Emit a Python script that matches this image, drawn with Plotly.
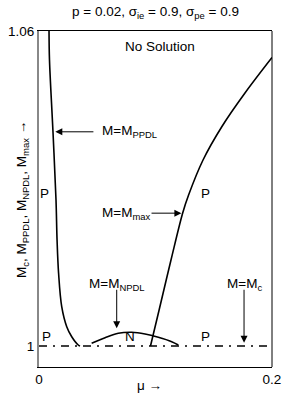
import plotly.graph_objects as go

# ---- data ----
ppdl_mu = [0.0086, 0.0090, 0.0120, 0.0146, 0.0155, 0.0168, 0.0195, 0.0238, 0.0281, 0.0337, 0.0352]
ppdl_M  = [1.0600, 1.0545, 1.0408, 1.0278, 1.0202, 1.0139, 1.0075, 1.00368, 1.00177, 1.00019, 1.0000]

npdl_mu = [0.0452, 0.0567, 0.0681, 0.0796, 0.0910, 0.1024, 0.1139, 0.1196]
npdl_M  = [1.00051, 1.00158, 1.00242, 1.00261, 1.00229, 1.00166, 1.00082, 1.00019]

mmax_mu = [0.0957, 0.1031, 0.1133, 0.1234, 0.1284, 0.1408, 0.1569, 0.1768, 0.2000]
mmax_M  = [1.0000, 1.00686, 1.01638, 1.02539, 1.02876, 1.03543, 1.04177, 1.04819, 1.05495]

mc_mu = [0.0, 0.2]
mc_M  = [1.0, 1.0]

x_ticks = [0, 0.2]
x_ticklabels = ["0", "0.2"]
y_ticks = [1.0, 1.06]
y_ticklabels = ["1", "1.06"]

FONT = "Liberation Sans, Arial, Helvetica, sans-serif"

fig = go.Figure()
line_style = dict(color="black", width=1.6)
fig.add_trace(go.Scatter(x=mc_mu, y=mc_M, mode="lines",
                         line=dict(color="black", width=1.3, dash="8px,6px,2px,6px")))
fig.add_trace(go.Scatter(x=ppdl_mu, y=ppdl_M, mode="lines", line=dict(line_style, shape="spline")))
fig.add_trace(go.Scatter(x=npdl_mu, y=npdl_M, mode="lines", line=dict(line_style, shape="spline")))
fig.add_trace(go.Scatter(x=mmax_mu, y=mmax_M, mode="lines", line=dict(line_style, shape="spline")))

tf = dict(family=FONT, size=13.5, color="black")
ann = []
def text(x, y, t, xanchor="center"):
    ann.append(dict(x=x, y=y, xref="x", yref="y", text=t, showarrow=False,
                    font=tf, xanchor=xanchor, yanchor="middle"))
def arrow(x, y, ax, ay):
    ann.append(dict(x=x, y=y, ax=ax, ay=ay, xref="x", yref="y", axref="x", ayref="y",
                    text="", showarrow=True, arrowhead=2, arrowsize=1.4,
                    arrowwidth=1, arrowcolor="black"))

text(0.1035, 1.0570, "No Solution")
text(0.0524, 1.0408, "M=M<sub>PPDL</sub>", "left")
arrow(0.0140, 1.0408, 0.0480, 1.0408)
text(0.0524, 1.0253, "M=M<sub>max</sub>", "left")
arrow(0.1222, 1.0253, 0.0953, 1.0253)
text(0.0670, 1.0118, "M=M<sub>NPDL</sub>")
arrow(0.0667, 1.0034, 0.0667, 1.0110)
text(0.1760, 1.0118, "M=M<sub>c</sub>")
arrow(0.1760, 1.0006, 0.1760, 1.0110)
text(0.0066, 1.0018, "P")
text(0.0784, 1.0018, "N")
text(0.1425, 1.0018, "P")
text(0.0048, 1.0290, "P")
text(0.1425, 1.0290, "P")
# axis titles
ann.append(dict(x=-0.073, y=0.5, xref="paper", yref="paper", showarrow=False, textangle=-90,
                text="M<sub>c</sub>, M<sub>PPDL</sub>, M<sub>NPDL</sub>, M<sub>max</sub> →",
                font=tf, xanchor="center", yanchor="middle"))
ann.append(dict(x=0.476, y=-0.0565, xref="paper", yref="paper", showarrow=False,
                text="μ →", font=tf, xanchor="center", yanchor="middle"))
fig.update_layout(annotations=ann)

fig.add_shape(type="line", xref="paper", yref="paper", x0=1, x1=1, y0=0, y1=1,
              line=dict(color="black", width=1))

fig.update_layout(
    width=300, height=414,
    margin=dict(l=39, r=28, t=31, b=47),
    paper_bgcolor="white", plot_bgcolor="white",
    showlegend=False,
    font=tf,
    title=dict(text="p = 0.02, σ<sub>ie</sub> = 0.9, σ<sub>pe</sub> = 0.9",
               x=0.5, xref="paper", xanchor="center", y=0.973, yanchor="middle",
               font=tf),
    xaxis=dict(range=[0, 0.2], tickvals=x_ticks, ticktext=x_ticklabels, ticks="",
               showgrid=False, zeroline=False, showline=True, linecolor="black",
               linewidth=1, mirror=True, tickfont=tf, automargin=False),
    yaxis=dict(range=[0.996, 1.06], tickvals=y_ticks, ticktext=y_ticklabels, ticks="",
               showgrid=False, zeroline=False, showline=True, linecolor="#888888",
               linewidth=2, tickfont=tf, automargin=False),
)

fig.write_html("out.html", config={"displayModeBar": False},
               post_script="document.body.style.margin='0';")
